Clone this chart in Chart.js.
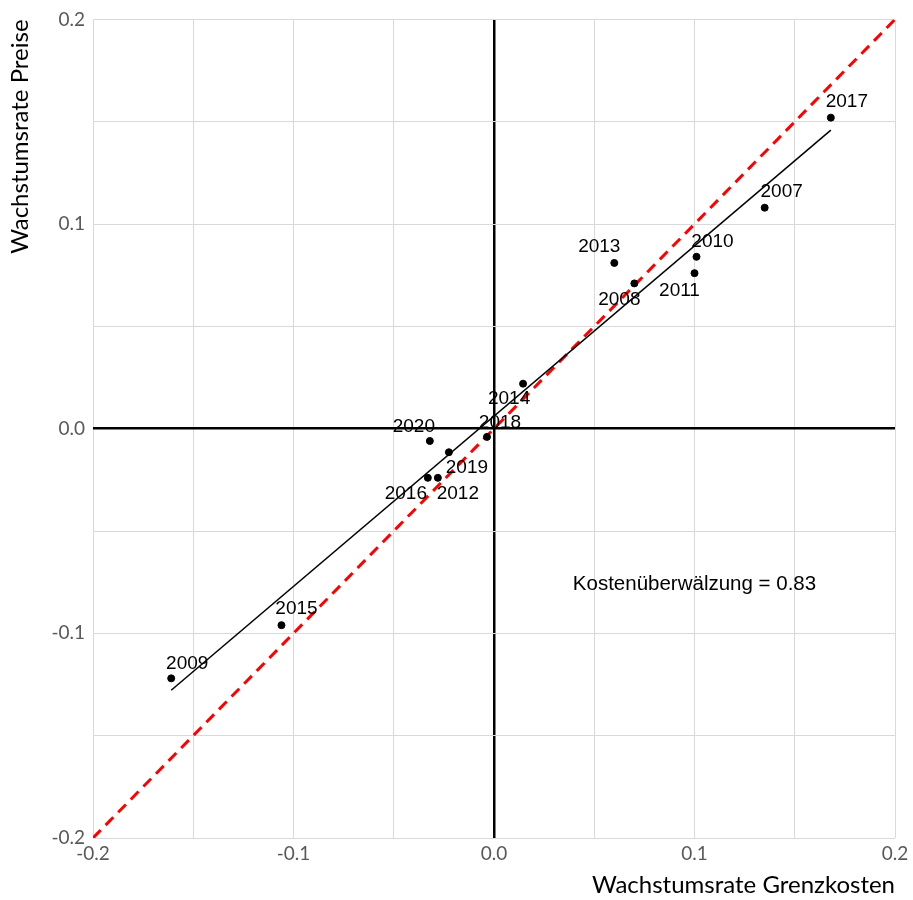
<!DOCTYPE html>
<html>
<head>
<meta charset="utf-8">
<script src="https://cdn.jsdelivr.net/npm/chart.js@4/dist/chart.umd.min.js"></script>
<style>
  html, body { margin: 0; padding: 0; background: #fff; }
  #wrap { width: 913px; height: 900px; }
</style>
</head>
<body>
<div id="wrap"><canvas id="chart"></canvas></div>
<script>
// values
const years = ['2007', '2008', '2009', '2010', '2011', '2012', '2013', '2014', '2015', '2016', '2017', '2018', '2019', '2020'];
const costGrowth = [0.135, 0.070, -0.161, 0.101, 0.100, -0.028, 0.060, 0.0145, -0.106, -0.033, 0.168, -0.0035, -0.0225, -0.032];
const priceGrowth = [0.108, 0.071, -0.122, 0.084, 0.076, -0.024, 0.081, 0.022, -0.096, -0.024, 0.152, -0.004, -0.0115, -0.006];
const fitX = [-0.161, 0.168];
const fitY = [-0.1278, 0.1459];
const diagonal = [-0.2, 0.2];
const passThrough = 'Kostenüberwälzung = 0.83';

// where each year label sits relative to its point (px)
const labelShift = {
  '2007': [17, -16], '2008': [-15, 16], '2009': [16, -15], '2010': [16, -15],
  '2011': [-15, 18], '2012': [20, 16], '2013': [-15, -16], '2014': [-14, 15],
  '2015': [15, -16], '2016': [-22, 16], '2017': [16, -16], '2018': [13, -14],
  '2019': [18, 16], '2020': [-16, -14]
};

const tickFont = { family: 'Lato, "Open Sans", sans-serif', size: 19 };
const titleFont = { family: 'Lato, "Open Sans", sans-serif', size: 24 };
const gridColor = '#d9d9d9';

const yearLabels = {
  id: 'yearLabels',
  afterDatasetsDraw(chart) {
    const ctx = chart.ctx;
    const xs = chart.scales.x, ys = chart.scales.y;
    ctx.save();
    ctx.fillStyle = '#000';
    ctx.font = '19px "Liberation Sans", Arial, sans-serif';
    ctx.textAlign = 'center';
    ctx.textBaseline = 'middle';
    years.forEach((yr, i) => {
      const px = xs.getPixelForValue(costGrowth[i]);
      const py = ys.getPixelForValue(priceGrowth[i]);
      const s = labelShift[yr];
      ctx.fillText(yr, px + s[0], py + s[1]);
    });
    ctx.font = '20.5px "Liberation Sans", Arial, sans-serif';
    ctx.fillText(passThrough, xs.getPixelForValue(0.1), ys.getPixelForValue(-0.076));
    ctx.restore();
  }
};

function tickLabel(v) {
  const r = Math.round(v * 100);
  if (r % 10 !== 0) return '';
  return (r / 100).toFixed(1);
}

new Chart(document.getElementById('chart'), {
  type: 'scatter',
  data: {
    datasets: [
      {
        label: 'Jahre',
        data: years.map((y, i) => ({ x: costGrowth[i], y: priceGrowth[i] })),
        backgroundColor: '#000',
        borderColor: '#000',
        pointRadius: 3.5,
        order: 1
      },
      {
        type: 'line',
        label: 'Regression',
        data: fitX.map((x, i) => ({ x: x, y: fitY[i] })),
        borderColor: '#000',
        borderWidth: 1.5,
        pointRadius: 0,
        fill: false,
        order: 2
      },
      {
        type: 'line',
        label: '45°',
        data: diagonal.map(v => ({ x: v, y: v })),
        borderColor: '#ff0000',
        borderWidth: 3,
        borderDash: [11, 7],
        pointRadius: 0,
        fill: false,
        order: 3
      }
    ]
  },
  options: {
    responsive: true,
    maintainAspectRatio: false,
    animation: false,
    layout: { padding: { top: 13, right: 18, left: 0, bottom: 0 } },
    plugins: { legend: { display: false }, tooltip: { enabled: false } },
    scales: {
      x: {
        type: 'linear',
        min: -0.2, max: 0.2,
        afterFit(scale) { scale.height = 62; },
        ticks: { stepSize: 0.05, color: '#595959', font: tickFont, padding: 4, maxRotation: 0, autoSkip: false, callback: tickLabel },
        grid: {
          color: c => Math.abs(c.tick.value) < 1e-9 ? '#000' : gridColor,
          lineWidth: c => Math.abs(c.tick.value) < 1e-9 ? 2.5 : 1,
          drawTicks: false
        },
        border: { display: false },
        title: { display: true, text: 'Wachstumsrate Grenzkosten', align: 'end', color: '#000', font: titleFont, padding: 0 }
      },
      y: {
        type: 'linear',
        min: -0.2, max: 0.2,
        afterFit(scale) { scale.width = 93; },
        ticks: { stepSize: 0.05, color: '#595959', font: tickFont, padding: 8, autoSkip: false, callback: tickLabel },
        grid: {
          color: c => Math.abs(c.tick.value) < 1e-9 ? '#000' : gridColor,
          lineWidth: c => Math.abs(c.tick.value) < 1e-9 ? 2.5 : 1,
          drawTicks: false
        },
        border: { display: false },
        title: { display: true, text: 'Wachstumsrate Preise', align: 'end', color: '#000', font: titleFont, padding: { top: 6, bottom: 0 } }
      }
    }
  },
  plugins: [yearLabels]
});
</script>
</body>
</html>
